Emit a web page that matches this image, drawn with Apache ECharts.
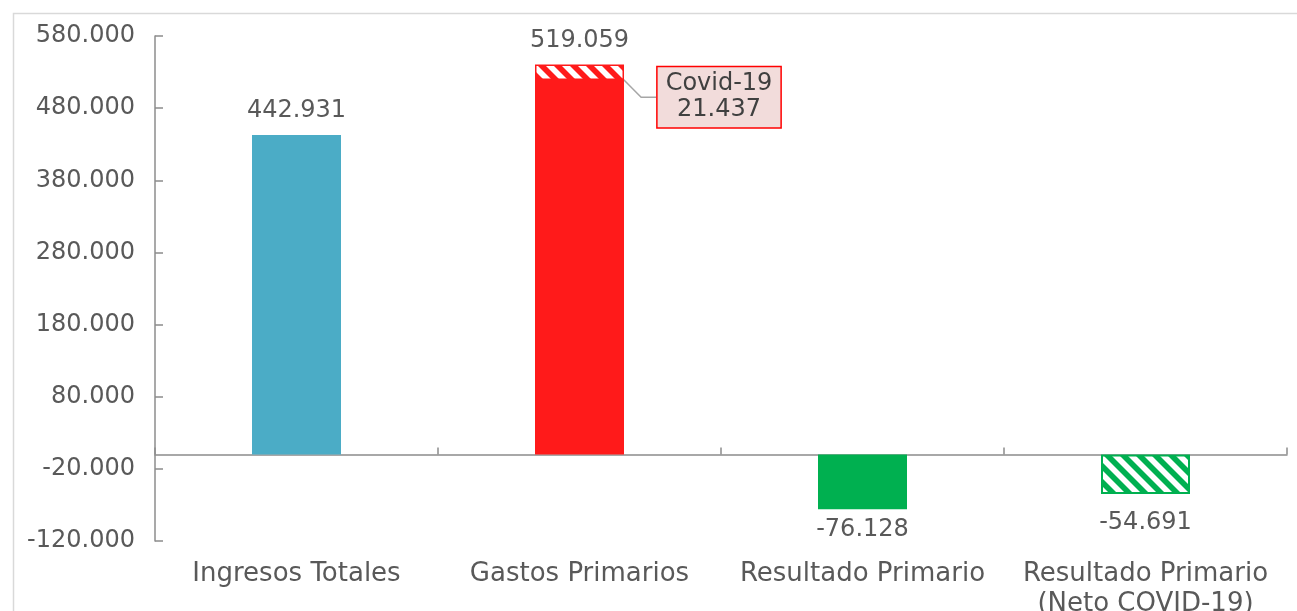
<!DOCTYPE html>
<html>
<head>
<meta charset="utf-8">
<script src="https://cdn.jsdelivr.net/npm/echarts@6/dist/echarts.min.js"></script>
<style>
  html, body { margin: 0; padding: 0; background: #fff; }
  #chart { width: 1297px; height: 611px; }
</style>
</head>
<body>
<div id="chart"></div>
<script>
// datos (miles)
const categorias = ["Ingresos Totales", "Gastos Primarios", "Resultado Primario", "Resultado Primario\n(Neto COVID-19)"];
const montos = [442931, 519059, -76128, "-"];
const rayados = ["-", 21437, "-", -54691];
const etiquetaCovid = "Covid-19";
const yTicks = { min: -120000, max: 580000, interval: 100000 };

const colores = ["#4bacc6", "#ff1a1a", "#00b050"];
const fuente = "DejaVu Sans";
const gris = "#595959";

function fmt(v) {
  let s = Math.abs(Math.round(v)).toString();
  s = s.replace(/\B(?=(\d{3})+(?!\d))/g, ".");
  return (v < 0 ? "-" : "") + s;
}

// relleno rayado diagonal (franjas blancas "\")
function rayas(color) {
  const S = 16, w = 8;
  const c = document.createElement("canvas");
  c.width = S;
  c.height = S;
  const ctx = c.getContext("2d");
  ctx.fillStyle = color;
  ctx.fillRect(0, 0, S, S);
  ctx.fillStyle = "#ffffff";
  for (let o = -2 * S; o <= 2 * S; o += S) {
    ctx.beginPath();
    ctx.moveTo(o, 0);
    ctx.lineTo(o + w, 0);
    ctx.lineTo(o + w + S, S);
    ctx.lineTo(o + S, S);
    ctx.closePath();
    ctx.fill();
  }
  return { image: c, repeat: "repeat" };
}

const etiqueta = {
  show: true,
  fontFamily: fuente,
  fontSize: 24,
  color: gris,
  distance: 12,
  formatter: (p) => fmt(p.value),
};

const serieSolida = montos.map((v, i) => {
  if (v === "-") return "-";
  return {
    value: v,
    itemStyle: { color: colores[i] },
    label: i === 1 ? { show: false } : Object.assign({}, etiqueta, {
      position: v < 0 ? "bottom" : "top",
      distance: v < 0 ? 8 : 12,
    }),
  };
});

const serieRayada = rayados.map((v, i) => {
  if (v === "-") return "-";
  if (i === 1) {
    return {
      value: v,
      itemStyle: { color: rayas("#ff1a1a"), borderColor: "#ff1a1a", borderWidth: 1.5 },
      label: {
        show: true,
        position: "right",
        distance: 5,
        offset: [90, 25],
        fontFamily: fuente,
        fontSize: 24,
        lineHeight: 26,
        color: "#404040",
        align: "center",
        verticalAlign: "middle",
        backgroundColor: "#f2dcdb",
        borderColor: "#ff0000",
        borderWidth: 1.5,
        padding: [4, 8, 4, 8],
        formatter: () => etiquetaCovid + "\n" + fmt(v),
      },
      labelLine: { show: true, length2: 15, lineStyle: { color: "#a6a6a6", width: 1.5 } },
    };
  }
  return {
    value: v,
    itemStyle: { color: rayas("#00b050"), borderColor: "#00b050", borderWidth: 2 },
    label: Object.assign({}, etiqueta, { position: "bottom", distance: 17 }),
  };
});

const chart = echarts.init(document.getElementById("chart"));
chart.setOption({
  animation: false,
  backgroundColor: "#fff",
  textStyle: { fontFamily: fuente },
  graphic: [
    {
      type: "rect",
      left: 11,
      top: 11,
      shape: { width: 1400, height: 700 },
      style: { fill: "none", stroke: "#d9d9d9", lineWidth: 1.5 },
      silent: true,
    },
  ],
  grid: { left: 155, right: 10, top: 36, bottom: 70, containLabel: false, outerBoundsMode: "none" },
  xAxis: [
    {
      type: "category",
      data: categorias,
      axisLine: { onZero: true, lineStyle: { color: "#8c8c8c", width: 1.5 } },
      axisTick: { show: true, inside: true, length: 7, lineStyle: { color: "#8c8c8c", width: 1.5 } },
      axisLabel: { show: false },
    },
    {
      type: "category",
      data: categorias,
      position: "bottom",
      axisLine: { show: false, onZero: false },
      axisTick: { show: false },
      axisLabel: {
        interval: 0,
        margin: 18,
        fontFamily: fuente,
        fontSize: 26,
        lineHeight: 30,
        color: gris,
      },
    },
  ],
  yAxis: {
    type: "value",
    min: yTicks.min,
    max: yTicks.max,
    interval: yTicks.interval,
    axisLine: { show: true, lineStyle: { color: "#8c8c8c", width: 1.5 } },
    axisTick: { show: true, inside: true, length: 8, lineStyle: { color: "#8c8c8c", width: 1.5 } },
    splitLine: { show: false },
    axisLabel: {
      margin: 20,
      fontFamily: fuente,
      fontSize: 24,
      color: gris,
      formatter: (v) => fmt(v),
    },
  },
  series: [
    {
      name: "base",
      type: "bar",
      stack: "total",
      barWidth: 89,
      xAxisIndex: 0,
      data: serieSolida,
    },
    {
      name: "rayado",
      type: "bar",
      stack: "total",
      barWidth: 89,
      xAxisIndex: 0,
      data: serieRayada,
      markPoint: {
        symbol: "circle",
        symbolSize: 0,
        label: {
          show: true,
          position: "top",
          distance: 12,
          fontFamily: fuente,
          fontSize: 24,
          color: gris,
          formatter: () => fmt(montos[1]),
        },
        data: [{ coord: [categorias[1], montos[1] + rayados[1]] }],
      },
    },
  ],
});
</script>
</body>
</html>
